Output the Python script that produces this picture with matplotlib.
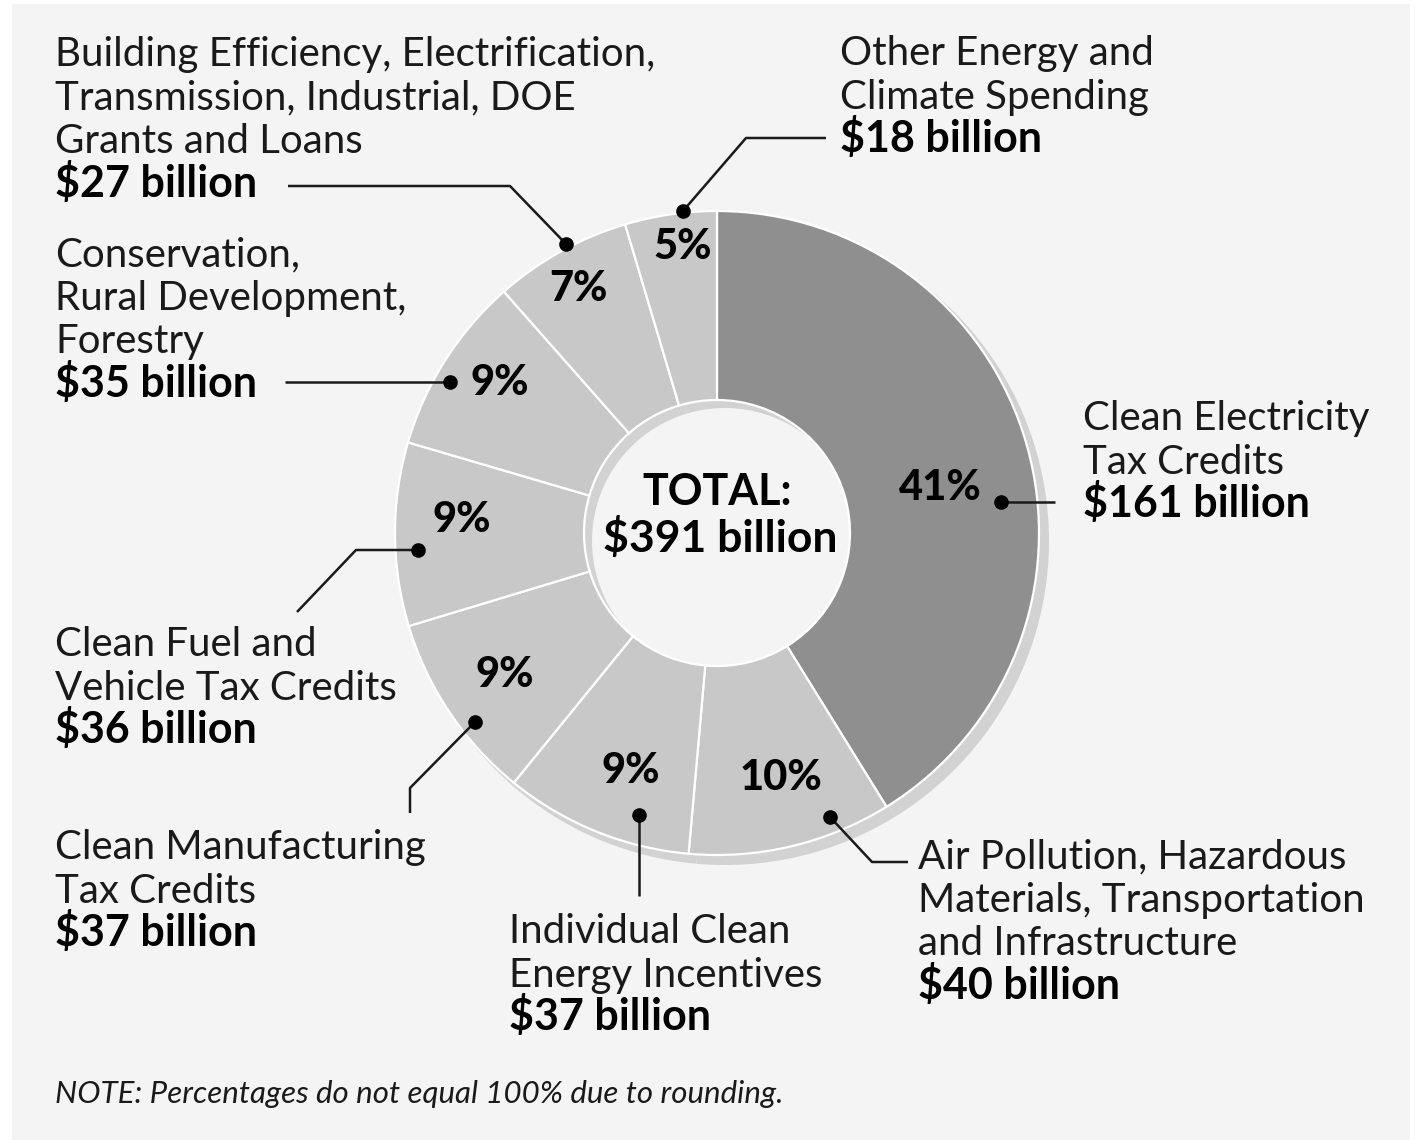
import matplotlib.pyplot as plt
from matplotlib.patches import Rectangle

W, H = 1419, 1140

# spending categories, clockwise from the top
categories = [
    "Clean Electricity\nTax Credits",
    "Air Pollution, Hazardous\nMaterials, Transportation\nand Infrastructure",
    "Individual Clean\nEnergy Incentives",
    "Clean Manufacturing\nTax Credits",
    "Clean Fuel and\nVehicle Tax Credits",
    "Conservation,\nRural Development,\nForestry",
    "Building Efficiency, Electrification,\nTransmission, Industrial, DOE\nGrants and Loans",
    "Other Energy and\nClimate Spending",
]
amounts = [161, 40, 37, 37, 36, 35, 27, 18]  # $ billion
total = sum(amounts)
percents = [round(a / total * 100) for a in amounts]

# layout in pixel coordinates (y grows downward)
cx, cy = 717, 533
r_out, r_in = 322, 133

pct_pos = [(940, 488), (781, 778), (631, 771), (505, 675),
           (462, 520), (500, 383), (578, 289), (683, 247)]
# left x and baseline of first line, line step
label_pos = [(1083, 430), (918, 868), (509, 943), (55, 859),
             (55, 656), (55, 266), (55, 66), (840, 65)]
line_step = 43.6
leaders = [
    [(1001, 502), (1055, 502)],
    [(830, 817), (872, 862), (908, 862)],
    [(639, 815), (639, 896)],
    [(475, 722), (410, 788), (410, 813)],
    [(418, 550), (356, 550), (297, 612)],
    [(450, 382), (285, 382)],
    [(566, 244), (510, 186), (288, 186)],
    [(683, 211), (746, 138), (826, 138)],
]

font = "Lato"
dark = "#8f8f8f"
light = "#c8c8c8"
shadow = "#d2d2d2"
panel = "#f4f4f4"

fig = plt.figure(figsize=(W / 100, H / 100), dpi=100)
fig.patch.set_facecolor("white")
ax = fig.add_axes([0, 0, 1, 1])

# drop shadow under the ring
ax.pie(amounts, radius=r_out + 2, center=(cx + 8, cy + 8), startangle=270,
       counterclock=True, colors=[shadow] * len(amounts),
       wedgeprops=dict(width=r_out - r_in + 2, edgecolor="none"))
ax.pie(amounts, radius=r_out, center=(cx, cy), startangle=270,
       counterclock=True, colors=[dark] + [light] * (len(amounts) - 1),
       wedgeprops=dict(width=r_out - r_in, edgecolor="white", linewidth=1.6))

ax.set_xlim(0, W)
ax.set_ylim(H, 0)
ax.set_aspect("equal")
ax.axis("off")
ax.add_patch(Rectangle((12, 4), 1398, 1140, facecolor=panel, edgecolor="none", zorder=-10))

for p, (x, y) in zip(percents, pct_pos):
    ax.text(x, y, f"{p}%", ha="center", va="center", fontsize=30,
            fontweight=900, family=font, color="black")

for name, a, (x, y), pts in zip(categories, amounts, label_pos, leaders):
    lines = name.split("\n")
    for i, ln in enumerate(lines):
        ax.text(x, y + i * line_step, ln, ha="left", va="baseline",
                fontsize=29, family=font, color="#1a1a1a")
    ax.text(x, y + len(lines) * line_step, f"${a} billion", ha="left",
            va="baseline", fontsize=31, fontweight="bold", family=font, color="black")
    xs, ys = zip(*pts)
    ax.plot(xs, ys, color="#1a1a1a", lw=1.8, solid_capstyle="butt")
    ax.plot(xs[0], ys[0], "o", color="black", markersize=9.5)

ax.text(717, 492, "TOTAL:", ha="center", va="center", fontsize=31,
        fontweight="bold", family=font)
ax.text(720, 538, f"${total} billion", ha="center", va="center", fontsize=32,
        fontweight="bold", family=font)

ax.text(55, 1103, "NOTE: Percentages do not equal 100% due to rounding.",
        ha="left", va="baseline", fontsize=22.5, style="italic", family=font,
        color="#1a1a1a")

fig.savefig("out.png", dpi=100)
